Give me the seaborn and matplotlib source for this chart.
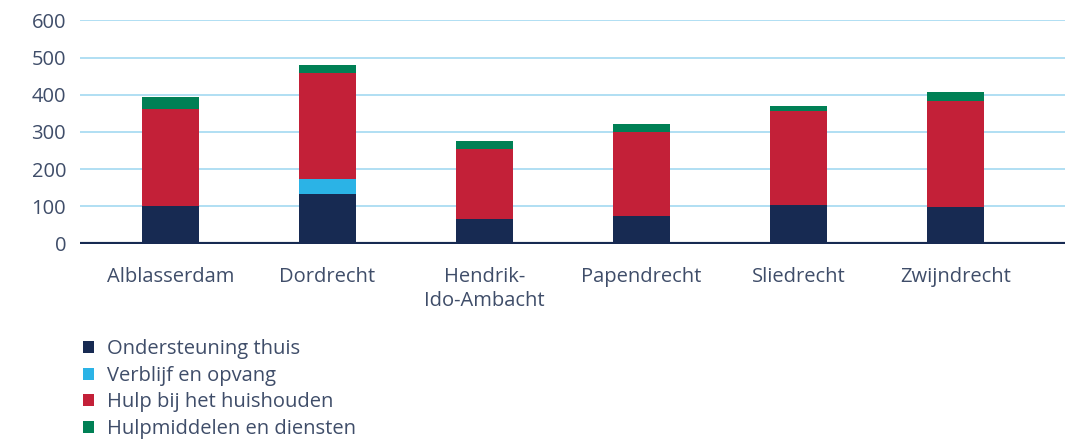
import numpy as np
import pandas as pd
import seaborn as sns
import matplotlib.pyplot as plt
from matplotlib.patches import Patch

# data
gemeenten = ["Alblasserdam", "Dordrecht", "Hendrik-\nIdo-Ambacht", "Papendrecht", "Sliedrecht", "Zwijndrecht"]
ondersteuning_thuis = [100, 134, 66, 74, 104, 99]
verblijf_opvang = [0, 40, 0, 0, 0, 0]
hulp_huishouden = [262, 283, 188, 227, 252, 284]
hulpmiddelen = [32, 23, 22, 20, 14, 24]

series_names = ["Ondersteuning thuis", "Verblijf en opvang", "Hulp bij het huishouden", "Hulpmiddelen en diensten"]
colors = ["#172a52", "#2bb3e6", "#c32038", "#008055"]
text_color = "#3f4d69"

sns.set_theme(style="white")
plt.rcParams["font.family"] = ["Open Sans", "DejaVu Sans"]

df = pd.DataFrame({
    "gemeente": gemeenten,
    series_names[0]: ondersteuning_thuis,
    series_names[1]: verblijf_opvang,
    series_names[2]: hulp_huishouden,
    series_names[3]: hulpmiddelen,
})
# cumulative totals, drawn from the top down so they look stacked
cum = df[series_names].cumsum(axis=1)

fig = plt.figure(figsize=(10.65, 4.42), dpi=100)
ax = fig.add_axes([80 / 1065, 198.5 / 442, 985 / 1065, 223.2 / 442])

for name, col in reversed(list(zip(series_names, colors))):
    sns.barplot(x=df["gemeente"], y=cum[name], color=col, width=0.363,
                saturation=1, ax=ax, zorder=3, edgecolor="none")

ax.set_ylim(0, 600)
ax.set_xlim(-0.576, 5.696)
ax.set_yticks(range(0, 601, 100))
ax.yaxis.grid(True, color="#a3d9f1", lw=1.2, zorder=0)
ax.xaxis.grid(False)
ax.axhline(0, color="#172a52", lw=3, zorder=4)
for s in ax.spines.values():
    s.set_visible(False)
ax.set_xlabel("")
ax.set_ylabel("")
ax.tick_params(axis="both", length=0, labelsize=14.5, colors=text_color)
ax.tick_params(axis="y", pad=10)
ax.tick_params(axis="x", pad=17)
for lbl in ax.get_xticklabels():
    lbl.set_linespacing(1.25)
    lbl.set_verticalalignment("top")

handles = [Patch(facecolor=c, edgecolor="none") for c in colors]
leg = fig.legend(handles, series_names, loc="upper left",
                 bbox_to_anchor=(75 / 1065, 1 - 331 / 442), frameon=False,
                 fontsize=14.5, handlelength=0.55, handleheight=0.55,
                 handletextpad=0.65, labelspacing=0.33, borderaxespad=0)
for t in leg.get_texts():
    t.set_color(text_color)

fig.savefig("out.png", dpi=100)
